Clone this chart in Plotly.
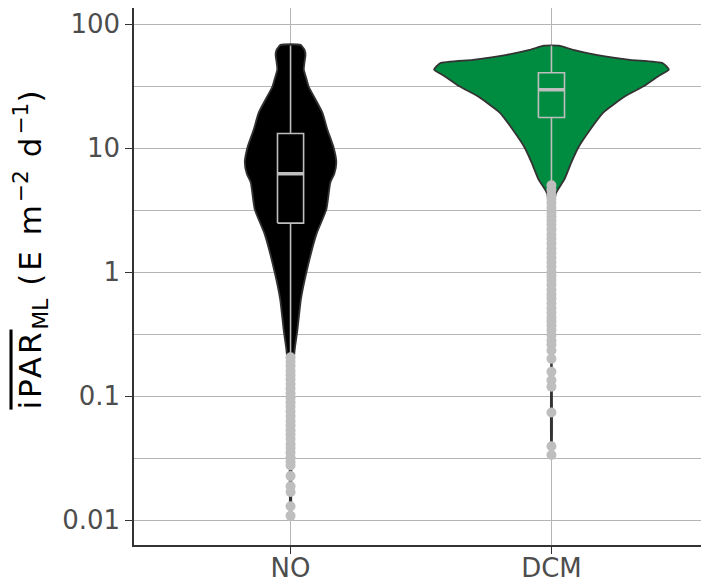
import plotly.graph_objects as go

# categories on the x axis
groups = ["NO", "DCM"]

# box statistics (E m-2 d-1)
q1 = [2.48, 17.6]
median = [6.2, 29.5]
q3 = [13.1, 40.4]
lower_whisker = [0.205, 5.0]
upper_whisker = [67.0, 67.0]

# violin outlines: value levels and relative half-widths (top -> bottom)
no_levels = [67.8, 62, 56.4, 49, 42.8, 36, 31.2, 19.3, 14.1, 10.1, 7.66, 6.2, 5.28,
             3.2, 2.02, 1.0, 0.607, 0.33, 0.241, 0.166, 0.095, 0.038, 0.015, 0.0106]
no_width = [10, 14, 15, 14, 13.3, 16, 18.3, 32, 37, 43.3, 46, 44, 40,
            36, 26, 16, 10.5, 6.7, 4.3, 2.5, 1.5, 1, 0.7, 0.5]
dcm_levels = [67, 61.8, 56.4, 51.4, 48.3, 42.8, 37.8, 31.3, 26.1, 19.3, 14.1, 10.1,
              7.66, 5.58, 4.4, 3.5, 2.2, 1.0, 0.24, 0.033]
dcm_width = [7.5, 22, 45, 79, 112, 118, 107, 92, 74, 52, 39, 27,
             20, 13, 5, 2.5, 1.2, 0.6, 0.3, 0.2]

# outliers below the lower whisker
no_outliers = [0.205, 0.19, 0.175, 0.16, 0.148, 0.136, 0.125, 0.115, 0.105, 0.097,
               0.089, 0.082, 0.075, 0.069, 0.063, 0.058, 0.053, 0.049, 0.045, 0.041,
               0.038, 0.035, 0.032, 0.0295, 0.0275, 0.0226, 0.0187, 0.0168, 0.0129, 0.0108]
dcm_outliers = [5.0, 4.6, 4.2, 3.9, 3.6, 3.3, 3.0, 2.8, 2.6, 2.4, 2.2, 2.0, 1.85, 1.7,
                1.55, 1.42, 1.3, 1.2, 1.1, 1.0, 0.93, 0.86, 0.79, 0.72, 0.66, 0.61,
                0.56, 0.51, 0.47, 0.43, 0.4, 0.37, 0.34, 0.31, 0.28, 0.26, 0.233, 0.2,
                0.157, 0.134, 0.119, 0.0736, 0.0393, 0.0334]

y_ticks = [0.01, 0.1, 1, 10, 100]
y_ticktext = ["0.01", "0.1", "1", "10", "100"]
y_minor = [0.00316, 0.0316, 0.316, 3.16, 31.6]

fill_colors = ["#000000", "#008C40"]
grey = "#bebebe"
font_family = "DejaVu Sans, Liberation Sans, sans-serif"
box_half = 0.05

fig = go.Figure()

# violins
max_w = max(dcm_width)
violins = [(no_levels, no_width), (dcm_levels, dcm_width)]
for i, (levels, widths) in enumerate(violins):
    half = [w / max_w * 0.45 for w in widths]
    xs = [i + h for h in half] + [i - h for h in half[::-1]] + [i + half[0]]
    ys = levels + levels[::-1] + [levels[0]]
    fig.add_trace(go.Scatter(
        x=xs, y=ys, mode="lines", fill="toself", fillcolor=fill_colors[i],
        line=dict(color="#333333", width=1.8, shape="spline", smoothing=0.5),
        hoverinfo="skip", showlegend=False))

# boxes and whiskers (ggplot style, no caps)
for i, g in enumerate(groups):
    bx = [i - box_half, i + box_half, i + box_half, i - box_half, i - box_half,
          None, i, i, None, i, i]
    by = [q1[i], q1[i], q3[i], q3[i], q1[i],
          None, q3[i], upper_whisker[i], None, q1[i], lower_whisker[i]]
    fig.add_trace(go.Scatter(
        x=bx, y=by, mode="lines", line=dict(color=grey, width=1.6),
        hoverinfo="skip", showlegend=False))
    fig.add_trace(go.Scatter(
        x=[i - box_half, i + box_half], y=[median[i], median[i]], mode="lines",
        line=dict(color=grey, width=3.5), name=g, showlegend=False))

# outliers
for i, outs in enumerate([no_outliers, dcm_outliers]):
    fig.add_trace(go.Scatter(
        x=[i] * len(outs), y=outs, mode="markers",
        marker=dict(color=grey, size=10, line=dict(width=0)),
        showlegend=False))

axis_font = dict(family=font_family, size=26, color="#4d4d4d")

ls = "letter-spacing:3px"
title_text = (f'<span style="text-decoration:overline;{ls}">iPAR</span>'
              f'<sub>ML</sub><span style="{ls}"> (E m</span><sup>\u22122</sup>'
              f'<span style="{ls}"> d</span><sup>\u22121</sup><span style="{ls}">)</span>')

fig.update_layout(
    width=701, height=574,
    margin=dict(l=126, r=1, t=0, b=37),
    plot_bgcolor="white", paper_bgcolor="white",
    showlegend=False,
    xaxis=dict(
        range=[-0.6, 1.6], tickvals=[0, 1], ticktext=groups, automargin=False,
        showgrid=True, gridcolor="#b5b5b5", gridwidth=1, zeroline=False,
        ticks="outside", ticklen=7, tickwidth=1.2, tickcolor="#333333",
        ticklabelstandoff=-8,
        showline=True, linecolor="#333333", linewidth=1.5, mirror=True,
        tickfont=axis_font),
    yaxis=dict(
        type="log", range=[-2.2016, 2.129], automargin=False,
        tickvals=y_ticks, ticktext=y_ticktext,
        showgrid=True, gridcolor="#b5b5b5", gridwidth=1, zeroline=False,
        minor=dict(tickvals=y_minor, showgrid=True, gridcolor="#b5b5b5",
                   gridwidth=1, ticklen=0),
        ticks="outside", ticklen=7, tickwidth=1.2, tickcolor="#333333",
        ticklabelstandoff=0,
        showline=True, linecolor="#333333", linewidth=1.5, mirror=True,
        tickfont=axis_font),
    annotations=[dict(
        text=title_text,
        xref="paper", yref="paper", x=-0.1794, y=0.552, textangle=-90,
        xanchor="center", yanchor="middle", showarrow=False,
        font=dict(family=font_family, size=31, color="black"))],
)

fig.write_html("out.html")
